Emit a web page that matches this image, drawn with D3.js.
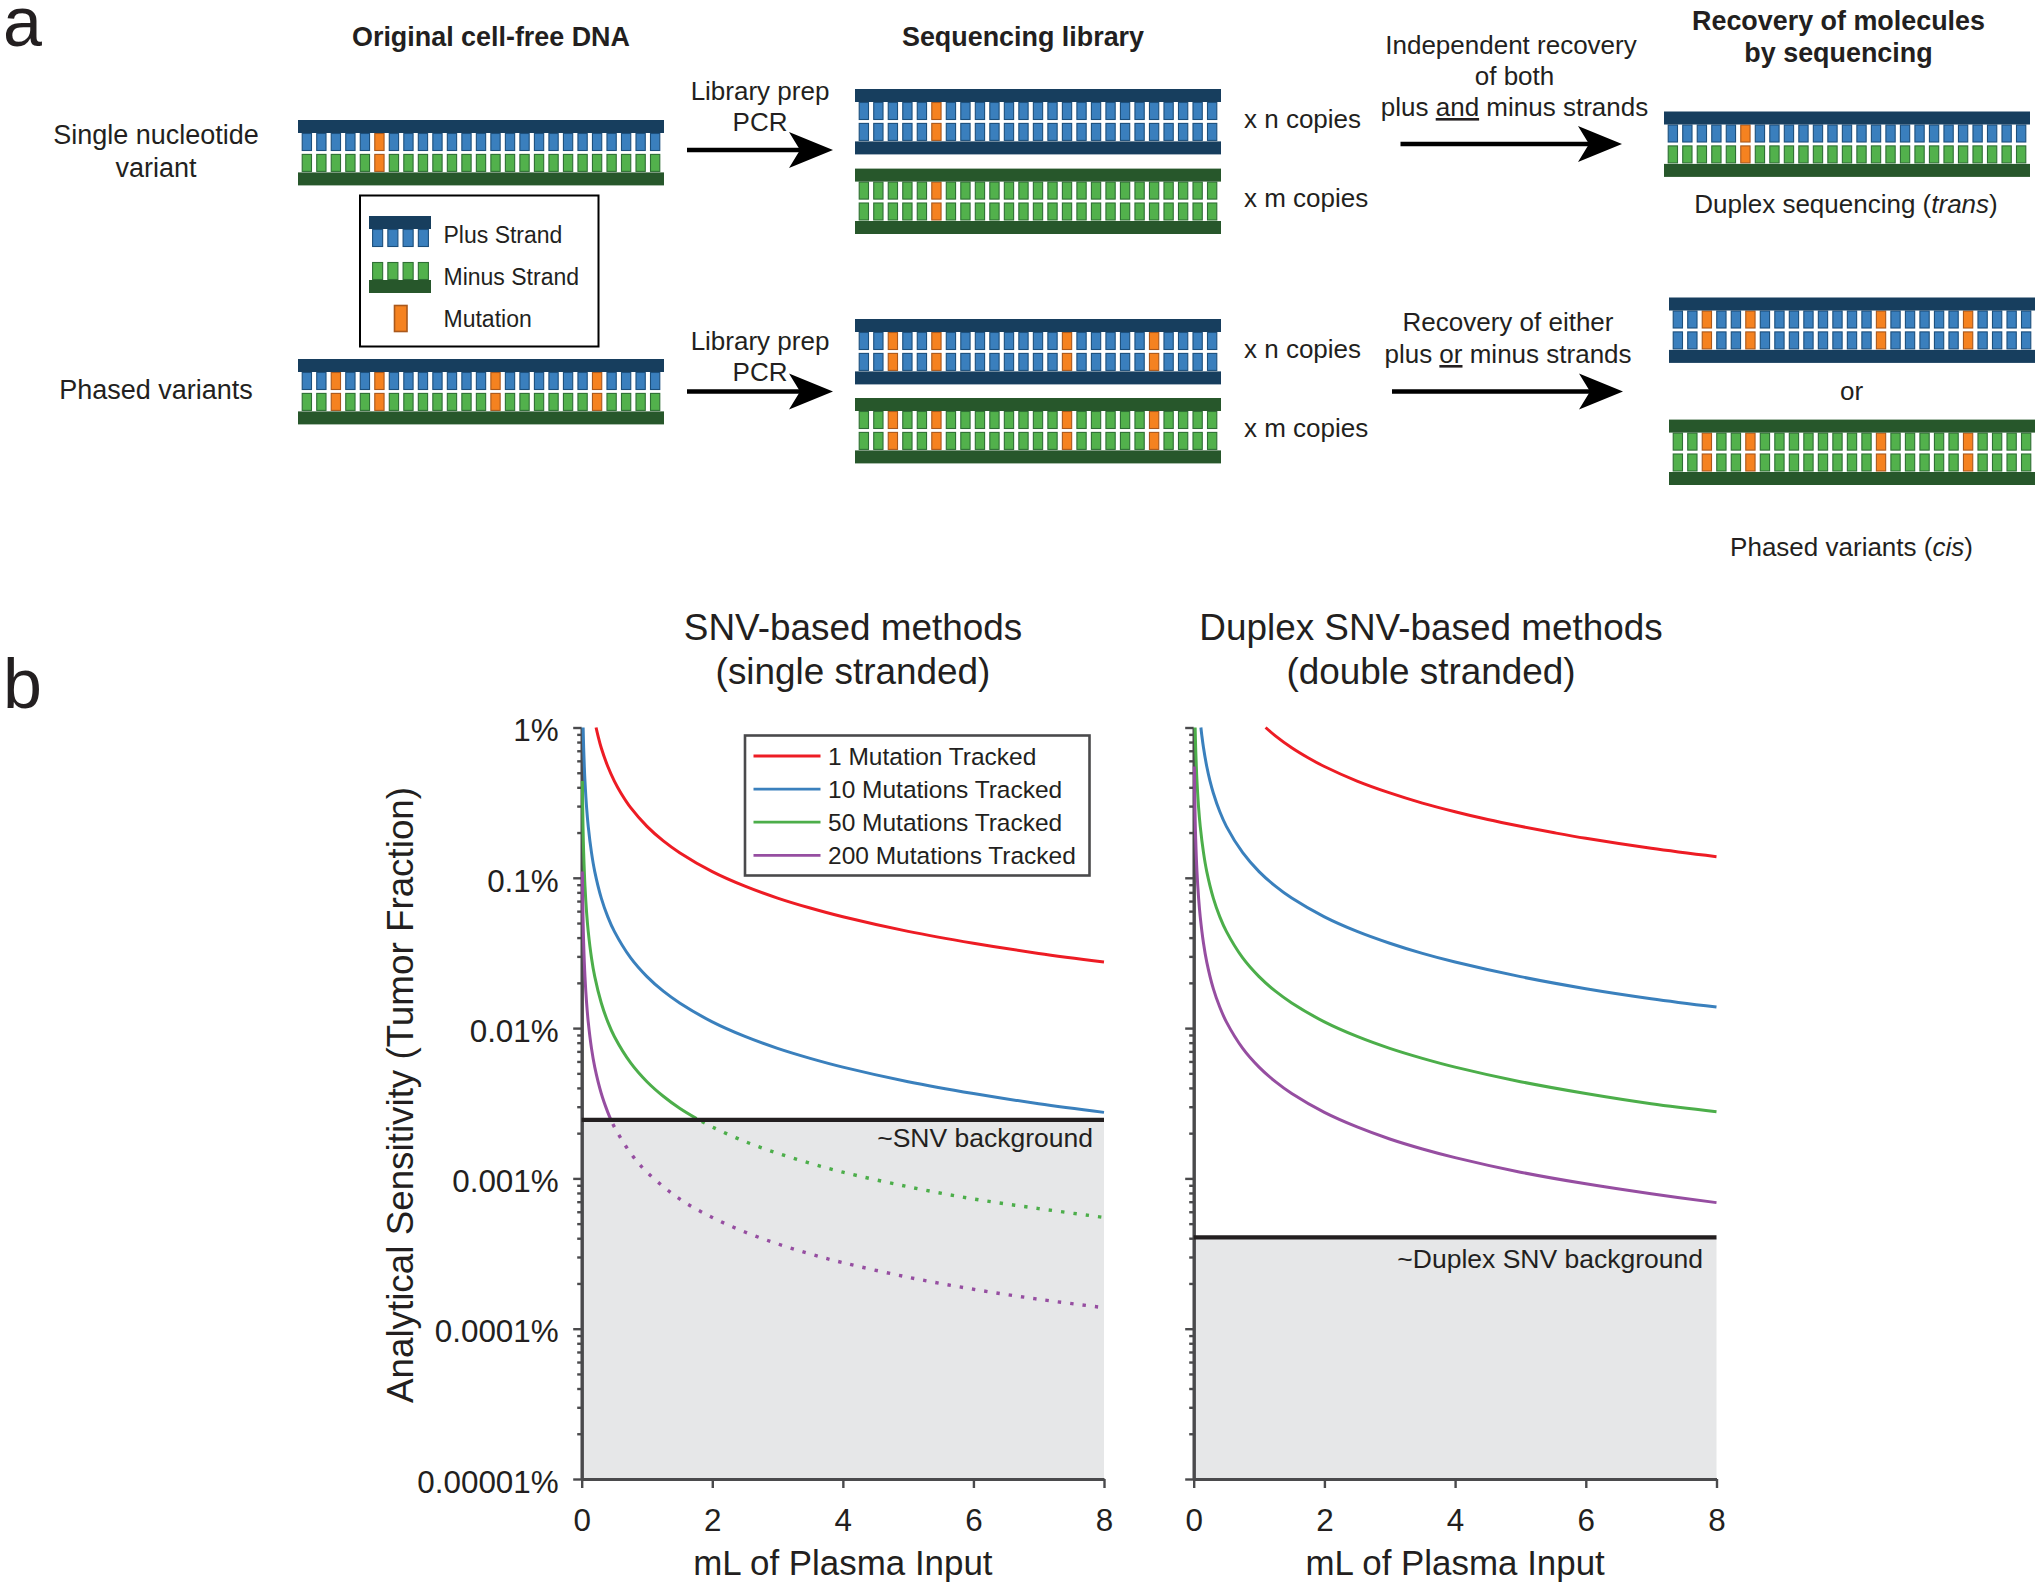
<!DOCTYPE html>
<html><head><meta charset="utf-8">
<script src="https://cdn.jsdelivr.net/npm/d3@7"></script>
<style>
html,body{margin:0;padding:0;background:#fff}
svg{display:block}
text{font-family:"Liberation Sans",Arial,sans-serif;fill:#231f20}
</style></head><body>
<svg id="c" width="2040" height="1588"></svg>
<script>
// ---------- data ----------
const baseIndex = d3.range(25);
const snvSites = [5];
const phasedOriginalSites = [2,5,13,20];
const phasedSites = [2,5,14,20];

const seriesNames = ["1 Mutation Tracked","10 Mutations Tracked","50 Mutations Tracked","200 Mutations Tracked"];
const yTickLabels = ["1%","0.1%","0.01%","0.001%","0.0001%","0.00001%"];
const yMajor = [1,0.1,0.01,0.001,0.0001,0.00001];
const xTicks = [0,2,4,6,8];

const snvBackground = 0.00245;
const duplexBackground = 0.000405;

const leftRedX = [0.22,0.25,0.3,0.4,0.5,0.6,0.75,1,1.25,1.5,2,2.5,3,3.5,4,5,6,7,8];
const leftRedY = [1,0.88,0.73,0.55,0.44,0.367,0.293,0.22,0.176,0.147,0.11,0.088,0.0733,0.0629,0.055,0.044,0.0367,0.0314,0.0275];
const leftBlueX = [0.022,0.03,0.04,0.05,0.075,0.1,0.15,0.2,0.3,0.4,0.5,0.75,1,1.25,1.5,2,2.5,3,3.5,4,5,6,7,8];
const leftBlueY = [1,0.733,0.55,0.44,0.293,0.22,0.147,0.11,0.0733,0.055,0.044,0.0293,0.022,0.0176,0.0147,0.011,0.0088,0.00733,0.00629,0.0055,0.0044,0.00367,0.00314,0.00275];
const leftGreenX = [0.01,0.02,0.03,0.05,0.075,0.1,0.15,0.2,0.3,0.4,0.5,0.75,1,1.25,1.5,1.76];
const leftGreenY = [0.44,0.22,0.147,0.088,0.0587,0.044,0.0293,0.022,0.0147,0.011,0.0088,0.00587,0.0044,0.00352,0.00293,0.0025];
const leftGreenDotX = [1.76,2,2.5,3,3.5,4,5,6,7,8];
const leftGreenDotY = [0.0025,0.0022,0.00176,0.00147,0.00126,0.0011,0.00088,0.00073,0.00063,0.00055];
const leftPurpleX = [0.01,0.02,0.03,0.05,0.075,0.1,0.15,0.2,0.3,0.4,0.44];
const leftPurpleY = [0.11,0.055,0.0367,0.022,0.0147,0.011,0.00733,0.0055,0.00367,0.00275,0.0025];
const leftPurpleDotX = [0.44,0.5,0.75,1,1.5,2,2.5,3,3.5,4,5,6,7,8];
const leftPurpleDotY = [0.0025,0.0022,0.00147,0.0011,0.00073,0.00055,0.00044,0.000367,0.000314,0.000275,0.00022,0.000183,0.000157,0.000138];

const rightRedX = [1.1,1.25,1.5,1.75,2,2.5,3,3.5,4,4.5,5,5.5,6,7,8];
const rightRedY = [1,0.88,0.733,0.629,0.55,0.44,0.367,0.314,0.275,0.244,0.22,0.2,0.183,0.157,0.138];
const rightBlueX = [0.11,0.125,0.15,0.2,0.25,0.3,0.4,0.5,0.75,1,1.25,1.5,2,2.5,3,3.5,4,5,6,7,8];
const rightBlueY = [1,0.88,0.733,0.55,0.44,0.367,0.275,0.22,0.147,0.11,0.088,0.0733,0.055,0.044,0.0367,0.0314,0.0275,0.022,0.0183,0.0157,0.0138];
const rightGreenX = [0.022,0.03,0.04,0.05,0.075,0.1,0.15,0.2,0.3,0.4,0.5,0.75,1,1.25,1.5,2,2.5,3,3.5,4,5,6,7,8];
const rightGreenY = [1,0.733,0.55,0.44,0.293,0.22,0.147,0.11,0.0733,0.055,0.044,0.0293,0.022,0.0176,0.0147,0.011,0.0088,0.00733,0.00629,0.0055,0.0044,0.00367,0.00314,0.00278];
const rightPurpleX = [0.01,0.02,0.03,0.05,0.075,0.1,0.15,0.2,0.3,0.4,0.5,0.75,1,1.25,1.5,2,2.5,3,3.5,4,5,6,7,8];
const rightPurpleY = [0.55,0.275,0.183,0.11,0.0733,0.055,0.0367,0.0275,0.0183,0.01375,0.011,0.00733,0.0055,0.0044,0.00367,0.00275,0.0022,0.00183,0.00157,0.001375,0.0011,0.00092,0.00079,0.00069];

// ---------- styles ----------
const RED="#ed1c24",BLUE="#3a80bd",GREEN="#4cae4a",PURPLE="#964ea1";
const INK="#231f20",AXIS="#4a4a4c";
const BLUEBAR="#173e5e",BLUETOOTH="#3a7fbd",BLUEEDGE="#1c4f7c";
const GREENBAR="#27572b",GREENTOOTH="#52b14c",GREENEDGE="#2e6f34";
const ORANGE="#f58220",ORANGEEDGE="#a9581c";

const svg = d3.select("#c");
svg.append("rect").attr("width",2040).attr("height",1588).attr("fill","#fff");

function label(str,x,y,size,anchor,weight,parent){
  const t=(parent||svg).append("text").attr("x",x).attr("y",y).attr("font-size",size)
    .attr("text-anchor",anchor||"start").attr("font-weight",weight||"normal");
  if(typeof str==="string") t.text(str);
  else str.forEach(p=>{const s=t.append("tspan").text(p.t);
    if(p.i)s.attr("font-style","italic");
    if(p.u)s.attr("text-decoration","underline");});
  return t;
}

// ---------- panel a ----------
const BAR=13, TOOTH=18, GAP=3.4;
function rowTeeth(g,x,y,w,sites,fill,edge,h){
  const band=d3.scaleBand().domain(baseIndex).range([x+1.6,x+w-1.6]).paddingInner(.36).paddingOuter(.18);
  g.selectAll(null).data(baseIndex).join("rect")
    .attr("x",d=>band(d)).attr("y",y).attr("width",band.bandwidth()).attr("height",h||TOOTH-1)
    .attr("fill",d=>sites.includes(d)?ORANGE:fill)
    .attr("stroke",d=>sites.includes(d)?ORANGEEDGE:edge).attr("stroke-width",1.1);
}
function bar(g,x,y,w,c){g.append("rect").attr("x",x).attr("y",y).attr("width",w).attr("height",BAR).attr("fill",c);}
// double strand: blue on top, green below
function duplex(x,y,sites,w=366){
  const g=svg.append("g");
  rowTeeth(g,x,y+BAR+.5,w,sites,BLUETOOTH,BLUEEDGE);
  rowTeeth(g,x,y+BAR+TOOTH+GAP,w,sites,GREENTOOTH,GREENEDGE);
  bar(g,x,y,w,BLUEBAR);
  bar(g,x,y+BAR+2*TOOTH+GAP,w,GREENBAR);
}
// library strand: bars of one colour on both sides
function library(x,y,sites,barColor,fill,edge,w=366){
  const g=svg.append("g");
  rowTeeth(g,x,y+BAR+.5,w,sites,fill,edge);
  rowTeeth(g,x,y+BAR+TOOTH+GAP,w,sites,fill,edge);
  bar(g,x,y,w,barColor);
  bar(g,x,y+BAR+2*TOOTH+GAP,w,barColor);
}
function arrow(x0,x1,y){
  svg.append("line").attr("x1",x0).attr("x2",x1-30).attr("y1",y).attr("y2",y)
    .attr("stroke","#000").attr("stroke-width",4.5);
  const p=d3.path();
  p.moveTo(x1,y);p.lineTo(x1-44,y-18);p.lineTo(x1-33,y);p.lineTo(x1-44,y+18);p.closePath();
  svg.append("path").attr("d",p.toString()).attr("fill","#000");
}

label("a",3,46,70);
label("b",3,708,70);

label("Original cell-free DNA",491,46,26.9,"middle","bold");
label("Sequencing library",1023,46,26.9,"middle","bold");
label("Recovery of molecules",1838.5,29.5,26.9,"middle","bold");
label("by sequencing",1838.5,62,26.9,"middle","bold");

label("Single nucleotide",156,144,27,"middle");
label("variant",156,177,27,"middle");
label("Phased variants",156,399,27,"middle");

duplex(298,120,snvSites);
duplex(298,359,phasedOriginalSites);

library(855,89,snvSites,BLUEBAR,BLUETOOTH,BLUEEDGE);
library(855,168.6,snvSites,GREENBAR,GREENTOOTH,GREENEDGE);
library(855,319,phasedSites,BLUEBAR,BLUETOOTH,BLUEEDGE);
library(855,398,phasedSites,GREENBAR,GREENTOOTH,GREENEDGE);

duplex(1664,111.5,snvSites);
library(1669,297.5,phasedSites,BLUEBAR,BLUETOOTH,BLUEEDGE);
library(1669,419.6,phasedSites,GREENBAR,GREENTOOTH,GREENEDGE);

// schematic legend
svg.append("rect").attr("x",360).attr("y",195.5).attr("width",238.5).attr("height",151)
  .attr("fill","#fff").attr("stroke","#000").attr("stroke-width",2);
{
  const g=svg.append("g");
  const band=d3.scaleBand().domain(d3.range(4)).range([370,431]).paddingInner(.34).paddingOuter(.17);
  g.selectAll(null).data(d3.range(4)).join("rect").attr("x",d=>band(d)).attr("y",229.5)
    .attr("width",band.bandwidth()).attr("height",17).attr("fill",BLUETOOTH).attr("stroke",BLUEEDGE).attr("stroke-width",1.1);
  g.append("rect").attr("x",369).attr("y",216).attr("width",62).attr("height",13).attr("fill",BLUEBAR);
  g.selectAll(null).data(d3.range(4)).join("rect").attr("x",d=>band(d)).attr("y",262.5)
    .attr("width",band.bandwidth()).attr("height",17).attr("fill",GREENTOOTH).attr("stroke",GREENEDGE).attr("stroke-width",1.1);
  g.append("rect").attr("x",369).attr("y",280).attr("width",62).attr("height",13).attr("fill",GREENBAR);
  g.append("rect").attr("x",394.5).attr("y",305.5).attr("width",12.5).attr("height",26).attr("fill",ORANGE).attr("stroke",ORANGEEDGE).attr("stroke-width",1.6);
}
label("Plus Strand",443.5,243,23);
label("Minus Strand",443.5,285,23);
label("Mutation",443.5,327,23);

label("Library prep",760,100,26,"middle");
label("PCR",760,130.5,26,"middle");
label("Library prep",760,350,26,"middle");
label("PCR",760,380.5,26,"middle");
arrow(687,833,150);
arrow(687,833,391.5);

label("x n copies",1244,127.5,26);
label("x m copies",1244,207,26);
label("x n copies",1244,358,26);
label("x m copies",1244,437,26);

label("Independent recovery",1511,54,26,"middle");
label("of both",1514.5,85,26,"middle");
label([{t:"plus "},{t:"and",u:1},{t:" minus strands"}],1514.5,116,26,"middle");
arrow(1400.5,1622,144);
label("Recovery of either",1508,331,26,"middle");
label([{t:"plus "},{t:"or",u:1},{t:" minus strands"}],1508,363,26,"middle");
arrow(1392,1623,391.5);

label([{t:"Duplex sequencing ("},{t:"trans",i:1},{t:")"}],1846,212.5,26,"middle");
label("or",1851.5,400,26,"middle");
label([{t:"Phased variants ("},{t:"cis",i:1},{t:")"}],1851.5,556,26,"middle");

// ---------- panel b ----------
const TOP=727.5,BOTTOM=1479;
const yScale=d3.scaleLog().domain([0.00001,1]).range([BOTTOM,TOP]);
const yMinor=[];
yMajor.slice(0,-1).forEach(m=>{[.9,.8,.7,.6,.5,.4,.3,.2].forEach(k=>yMinor.push(m*k));});

function panel(opt){
  const x=d3.scaleLinear().domain([0,8]).range([opt.x0,opt.x1]);
  const g=svg.append("g");
  const lineGen=d3.line().x(d=>x(d[0])).y(d=>yScale(d[1])).curve(d3.curveCatmullRom.alpha(.5));

  g.append("rect").attr("x",x(0)).attr("width",x(8)-x(0))
    .attr("y",yScale(opt.bg)).attr("height",yScale(0.00001)-yScale(opt.bg)).attr("fill","#e6e7e8");

  const axisStyle=a=>{a.selectAll("path,line").attr("stroke",AXIS).attr("stroke-width",2.4);a.select(".domain").attr("stroke-width",3);};
  const minor=g.append("g").attr("transform",`translate(${x(0)},0)`)
    .call(d3.axisLeft(yScale).tickValues(yMinor).tickSizeInner(4.5).tickSizeOuter(0).tickFormat(""));
  minor.call(axisStyle);
  const major=g.append("g").attr("transform",`translate(${x(0)},0)`)
    .call(d3.axisLeft(yScale).tickValues(yMajor).tickSizeInner(8.5).tickSizeOuter(0).tickPadding(14.5)
      .tickFormat((d,i)=>opt.labels?yTickLabels[i]:""));
  major.call(axisStyle);
  major.selectAll("text").attr("font-size",31.4).attr("fill",INK).attr("font-family",'"Liberation Sans"').attr("dy",".42em");
  const bottom=g.append("g").attr("transform",`translate(0,${BOTTOM})`)
    .call(d3.axisBottom(x).tickValues(xTicks).tickSizeInner(9).tickSizeOuter(0).tickPadding(21).tickFormat(d3.format("d")));
  bottom.call(axisStyle);
  bottom.selectAll("text").attr("font-size",31.4).attr("fill",INK).attr("font-family",'"Liberation Sans"');

  opt.solid.forEach(s=>{
    g.append("path").attr("d",lineGen(d3.zip(s.x,s.y))).attr("fill","none").attr("stroke",s.c).attr("stroke-width",3);
  });
  (opt.dotted||[]).forEach(s=>{
    g.append("path").attr("d",lineGen(d3.zip(s.x,s.y))).attr("fill","none").attr("stroke",s.c)
      .attr("stroke-width",3.4).attr("stroke-dasharray","3.4 9").attr("stroke-dashoffset",-6);
  });
  g.append("line").attr("x1",x(0)).attr("x2",x(8)).attr("y1",yScale(opt.bg)).attr("y2",yScale(opt.bg))
    .attr("stroke",INK).attr("stroke-width",4.4);

  label(opt.title[0],opt.tx,640,36.9,"middle");
  label(opt.title[1],opt.tx,684,36.9,"middle");
  label("mL of Plasma Input",(x(0)+x(8))/2,1575,34.9,"middle");
  label(opt.bgLabel,opt.bgRight,opt.bgY,26.5,"end");
  return x;
}

panel({x0:581.7,x1:1104,labels:true,bg:snvBackground,tx:853,
  title:["SNV-based methods","(single stranded)"],bgLabel:"~SNV background",bgRight:1093,bgY:1147,
  solid:[{x:leftRedX,y:leftRedY,c:RED},{x:leftBlueX,y:leftBlueY,c:BLUE},{x:leftGreenX,y:leftGreenY,c:GREEN},{x:leftPurpleX,y:leftPurpleY,c:PURPLE}],
  dotted:[{x:leftGreenDotX,y:leftGreenDotY,c:GREEN},{x:leftPurpleDotX,y:leftPurpleDotY,c:PURPLE}]});

panel({x0:1193.7,x1:1716.5,labels:false,bg:duplexBackground,tx:1431,
  title:["Duplex SNV-based methods","(double stranded)"],bgLabel:"~Duplex SNV background",bgRight:1703,bgY:1268,
  solid:[{x:rightRedX,y:rightRedY,c:RED},{x:rightBlueX,y:rightBlueY,c:BLUE},{x:rightGreenX,y:rightGreenY,c:GREEN},{x:rightPurpleX,y:rightPurpleY,c:PURPLE}]});

label("Analytical Sensitivity (Tumor Fraction)",0,0,36.8,"middle").attr("transform","translate(413,1095) rotate(-90)");

// curve legend
svg.append("rect").attr("x",745).attr("y",735.5).attr("width",344.5).attr("height",140)
  .attr("fill","#fff").attr("stroke",AXIS).attr("stroke-width",2.6);
const legendY=d3.scalePoint().domain(seriesNames).range([756,855.3]);
const legendColor=d3.scaleOrdinal().domain(seriesNames).range([RED,BLUE,GREEN,PURPLE]);
seriesNames.forEach(n=>{
  svg.append("line").attr("x1",753.5).attr("x2",820.5).attr("y1",legendY(n)).attr("y2",legendY(n))
    .attr("stroke",legendColor(n)).attr("stroke-width",2.8);
  label(n,828,legendY(n)+8.5,24.5);
});
</script>
</body></html>
